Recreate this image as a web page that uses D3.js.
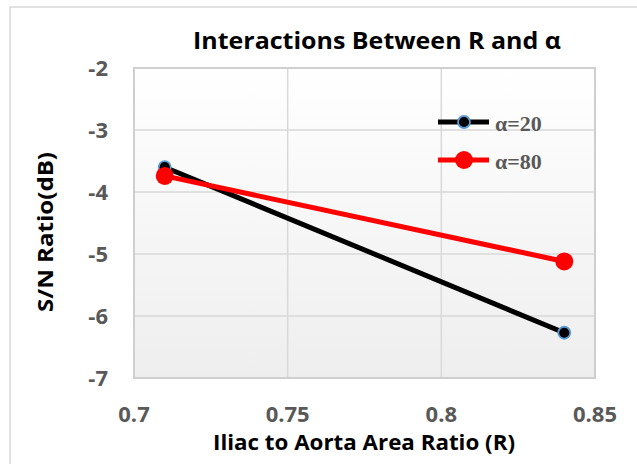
<!DOCTYPE html>
<html>
<head>
<meta charset="utf-8">
<script src="https://cdn.jsdelivr.net/npm/d3@7"></script>
<style>
  body { margin: 0; background: #fff; }
</style>
</head>
<body>
<div id="chart"></div>
<script>
// chart values
var ratios = [0.71, 0.84];
var alpha20 = [-3.6, -6.27];
var alpha80 = [-3.74, -5.12];
var xTicks = [0.7, 0.75, 0.8, 0.85];
var yTicks = [-2, -3, -4, -5, -6, -7];
var seriesNames = ["α=20", "α=80"];

var width = 637, height = 464;
var margin = { top: 68, right: 42, bottom: 86, left: 134 };

var svg = d3.select("#chart").append("svg")
    .attr("width", width)
    .attr("height", height);

// outer chart frame (only left/top visible in crop)
svg.append("path")
    .attr("d", "M10,464 L10,7 L637,7")
    .attr("fill", "none")
    .attr("stroke", "#d9d9d9")
    .attr("stroke-width", 1.5);

var x = d3.scaleLinear([0.7, 0.85], [margin.left, width - margin.right]);
var y = d3.scaleLinear([-7, -2], [height - margin.bottom, margin.top]);

// plot background gradient
var grad = svg.append("defs").append("linearGradient")
    .attr("id", "bg").attr("x1", 0).attr("y1", 0).attr("x2", 0).attr("y2", 1);
grad.append("stop").attr("offset", "0%").attr("stop-color", "#ffffff");
grad.append("stop").attr("offset", "100%").attr("stop-color", "#eeeeee");

svg.append("rect")
    .attr("x", x(0.7)).attr("y", y(-2))
    .attr("width", x(0.85) - x(0.7))
    .attr("height", y(-7) - y(-2))
    .attr("fill", "url(#bg)");

// grid lines
svg.append("g")
    .selectAll("line")
    .data(xTicks.slice(1, -1))
    .join("line")
    .attr("x1", d => x(d)).attr("x2", d => x(d))
    .attr("y1", y(-2)).attr("y2", y(-7))
    .attr("stroke", "#d9d9d9").attr("stroke-width", 1.5);

svg.append("g")
    .selectAll("line")
    .data(yTicks.slice(1, -1))
    .join("line")
    .attr("x1", x(0.7)).attr("x2", x(0.85))
    .attr("y1", d => y(d)).attr("y2", d => y(d))
    .attr("stroke", "#d9d9d9").attr("stroke-width", 1.5);

// plot border
svg.append("rect")
    .attr("x", x(0.7)).attr("y", y(-2))
    .attr("width", x(0.85) - x(0.7))
    .attr("height", y(-7) - y(-2))
    .attr("fill", "none")
    .attr("stroke", "#cfcfcf").attr("stroke-width", 2);

// tick labels
svg.append("g")
    .attr("font-family", "'Open Sans', sans-serif")
    .attr("font-weight", "bold")
    .attr("font-size", 22)
    .attr("fill", "#595959")
    .selectAll("text")
    .data(yTicks)
    .join("text")
    .attr("x", 108)
    .attr("y", d => y(d) + 8)
    .attr("text-anchor", "end")
    .text(d => d);

svg.append("g")
    .attr("font-family", "'Open Sans', sans-serif")
    .attr("font-weight", "bold")
    .attr("font-size", 22)
    .attr("fill", "#595959")
    .selectAll("text")
    .data(xTicks)
    .join("text")
    .attr("x", d => x(d))
    .attr("y", 422)
    .attr("text-anchor", "middle")
    .text(d => d);

// title and axis titles
svg.append("text")
    .attr("x", 377).attr("y", 49)
    .attr("text-anchor", "middle")
    .attr("font-family", "'Open Sans', sans-serif")
    .attr("font-weight", "bold").attr("font-size", 23)
    .attr("textLength", 368).attr("lengthAdjust", "spacingAndGlyphs")
    .text("Interactions Between R and α");

svg.append("text")
    .attr("x", 364).attr("y", 450)
    .attr("text-anchor", "middle")
    .attr("font-family", "'Open Sans', sans-serif")
    .attr("font-weight", "bold").attr("font-size", 22)
    .attr("textLength", 302).attr("lengthAdjust", "spacingAndGlyphs")
    .text("Iliac to Aorta Area Ratio (R)");

svg.append("text")
    .attr("transform", "translate(53,232) rotate(-90)")
    .attr("text-anchor", "middle")
    .attr("font-family", "'Open Sans', sans-serif")
    .attr("font-weight", "bold").attr("font-size", 22)
    .attr("textLength", 160).attr("lengthAdjust", "spacingAndGlyphs")
    .text("S/N Ratio(dB)");

// series
var line = d3.line().x(d => x(d[0])).y(d => y(d[1]));
var s20 = ratios.map((r, i) => [r, alpha20[i]]);
var s80 = ratios.map((r, i) => [r, alpha80[i]]);

svg.append("path").datum(s20)
    .attr("d", line).attr("fill", "none")
    .attr("stroke", "#000").attr("stroke-width", 5);
svg.append("g").selectAll("circle").data(s20).join("circle")
    .attr("cx", d => x(d[0])).attr("cy", d => y(d[1]))
    .attr("r", 6).attr("fill", "#000")
    .attr("stroke", "#5b9bd5").attr("stroke-width", 1.8);

svg.append("path").datum(s80)
    .attr("d", line).attr("fill", "none")
    .attr("stroke", "#ff0000").attr("stroke-width", 5);
svg.append("g").selectAll("circle").data(s80).join("circle")
    .attr("cx", d => x(d[0])).attr("cy", d => y(d[1]))
    .attr("r", 9).attr("fill", "#ff0000");

// legend
var legend = svg.append("g").attr("transform", "translate(438,122)");
var legendStyles = [
    { color: "#000", r: 6, fill: "#000", stroke: "#5b9bd5" },
    { color: "#ff0000", r: 9, fill: "#ff0000", stroke: "none" }
];
seriesNames.forEach(function (name, i) {
    var g = legend.append("g").attr("transform", `translate(0,${i * 38})`);
    g.append("line").attr("x1", 0).attr("x2", 51)
        .attr("stroke", legendStyles[i].color).attr("stroke-width", 5);
    g.append("circle").attr("cx", 26).attr("r", legendStyles[i].r)
        .attr("fill", legendStyles[i].fill)
        .attr("stroke", legendStyles[i].stroke).attr("stroke-width", 1.8);
    g.append("text").attr("x", 57).attr("y", 9)
        .attr("font-family", "'Liberation Serif', 'Times New Roman', serif")
        .attr("font-weight", "bold").attr("font-size", 22)
        .attr("fill", "#595959")
        .text(name);
});
</script>
</body>
</html>
